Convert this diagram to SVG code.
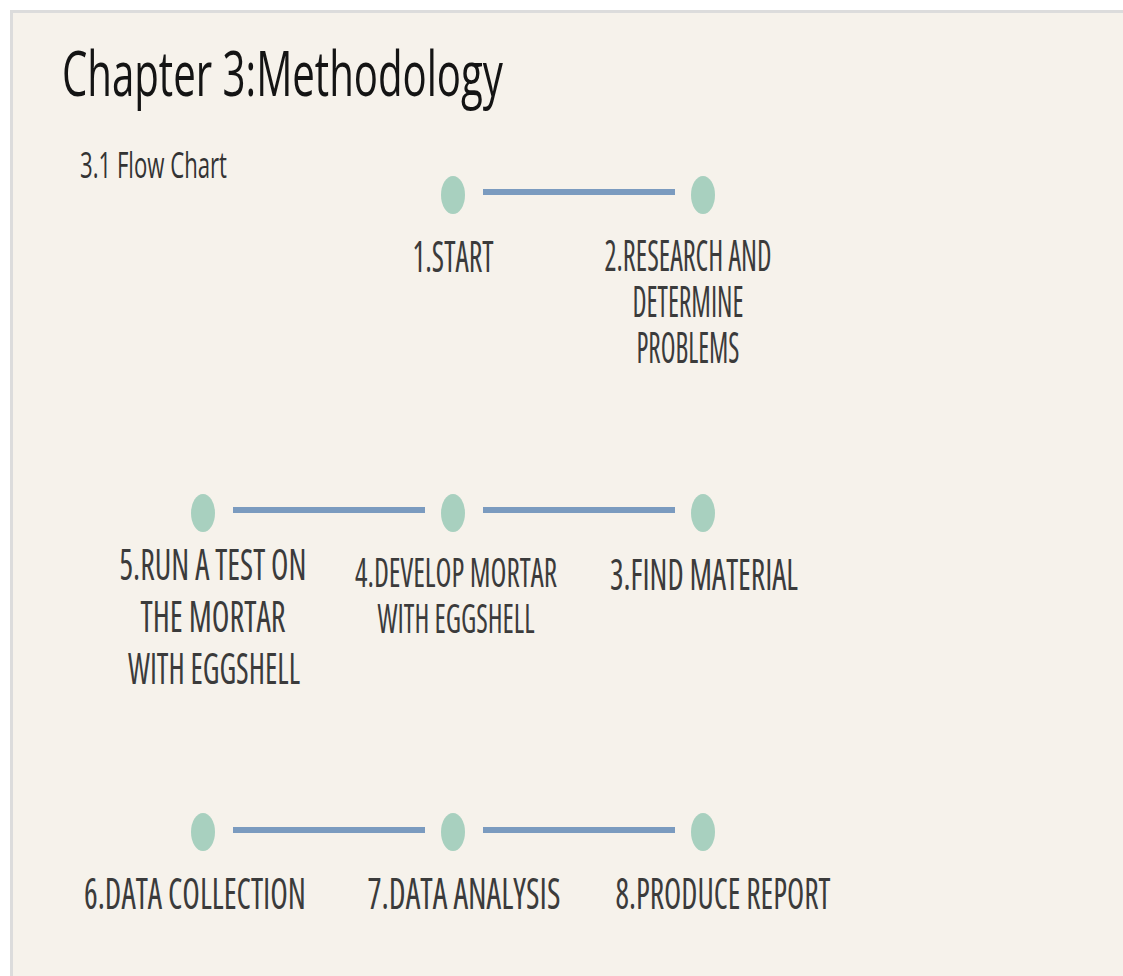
<svg xmlns="http://www.w3.org/2000/svg" width="1123" height="976" viewBox="0 0 1123 976">
<style>
.bg{fill:#f6f2eb}
.dot{fill:#a8d0bf}
.con line{stroke:#7b9bbf;stroke-width:6}
.title{font-family:"Open Sans","Liberation Sans",sans-serif;fill:#141414}
.lbl{font-family:"Open Sans","Liberation Sans",sans-serif;font-stretch:condensed;fill:#3b3b3b;text-anchor:middle;font-size:44px}
</style>
<rect x="0" y="0" width="1123" height="976" fill="#ffffff"/>
<rect x="10" y="10" width="1113" height="966" fill="#dcdcdc"/>
<rect class="bg" x="13" y="13" width="1110" height="963"/>
<text class="title" x="62" y="96" font-size="62" textLength="441" lengthAdjust="spacingAndGlyphs">Chapter 3:Methodology</text>
<text class="title" x="80" y="178" font-size="37" fill="#333" textLength="147" lengthAdjust="spacingAndGlyphs" style="fill:#333">3.1 Flow Chart</text>
<g class="con">
<line x1="483" y1="192" x2="675" y2="192"/>
<line x1="233" y1="510" x2="425" y2="510"/>
<line x1="483" y1="510" x2="675" y2="510"/>
<line x1="233" y1="830" x2="425" y2="830"/>
<line x1="483" y1="830" x2="675" y2="830"/>
</g>
<g id="n1"><ellipse class="dot" cx="453" cy="195" rx="12" ry="19"/><text class="lbl" x="453" y="272" textLength="81" lengthAdjust="spacingAndGlyphs">1.START</text></g>
<g id="n2"><ellipse class="dot" cx="703" cy="195" rx="12" ry="19"/>
<text class="lbl" x="688" y="271" textLength="167" lengthAdjust="spacingAndGlyphs">2.RESEARCH AND</text>
<text class="lbl" x="688" y="317" textLength="111" lengthAdjust="spacingAndGlyphs">DETERMINE</text>
<text class="lbl" x="688" y="363" textLength="103" lengthAdjust="spacingAndGlyphs">PROBLEMS</text></g>
<g id="n3"><ellipse class="dot" cx="703" cy="513" rx="12" ry="19"/><text class="lbl" x="704" y="590" textLength="188" lengthAdjust="spacingAndGlyphs">3.FIND MATERIAL</text></g>
<g id="n4"><ellipse class="dot" cx="453" cy="513" rx="12" ry="19"/>
<text class="lbl" x="456" y="587" font-size="40" style="font-size:40px" textLength="202" lengthAdjust="spacingAndGlyphs">4.DEVELOP MORTAR</text>
<text class="lbl" x="456" y="633" style="font-size:40px" textLength="157" lengthAdjust="spacingAndGlyphs">WITH EGGSHELL</text></g>
<g id="n5"><ellipse class="dot" cx="203" cy="513" rx="12" ry="19"/>
<text class="lbl" x="213" y="580" textLength="187" lengthAdjust="spacingAndGlyphs">5.RUN A TEST ON</text>
<text class="lbl" x="213" y="632" textLength="145" lengthAdjust="spacingAndGlyphs">THE MORTAR</text>
<text class="lbl" x="214" y="684" textLength="172" lengthAdjust="spacingAndGlyphs">WITH EGGSHELL</text></g>
<g id="n6"><ellipse class="dot" cx="203" cy="832" rx="12" ry="19"/><text class="lbl" x="195" y="909" textLength="222" lengthAdjust="spacingAndGlyphs">6.DATA COLLECTION</text></g>
<g id="n7"><ellipse class="dot" cx="453" cy="832" rx="12" ry="19"/><text class="lbl" x="464" y="909" textLength="193" lengthAdjust="spacingAndGlyphs">7.DATA ANALYSIS</text></g>
<g id="n8"><ellipse class="dot" cx="703" cy="832" rx="12" ry="19"/><text class="lbl" x="723" y="909" textLength="215" lengthAdjust="spacingAndGlyphs">8.PRODUCE REPORT</text></g>
</svg>
